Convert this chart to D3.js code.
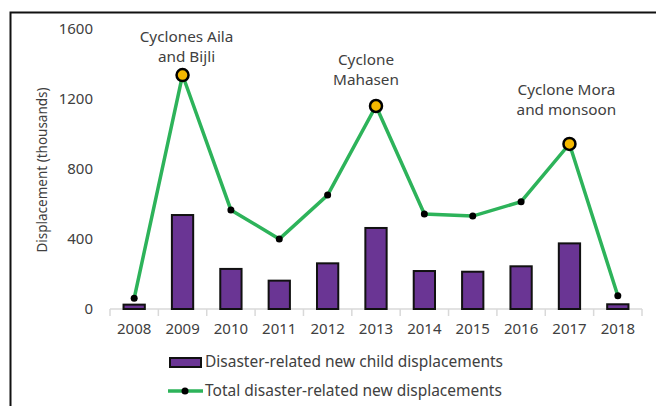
<!DOCTYPE html>
<html><head><meta charset="utf-8">
<script src="https://cdn.jsdelivr.net/npm/d3@7"></script>
<style>body{margin:0;background:#fff}svg{display:block}text{font-family:"Noto Sans",sans-serif;fill:#404040}</style>
</head><body>
<script>
const years = ["2008","2009","2010","2011","2012","2013","2014","2015","2016","2017","2018"];
const childDisp = [25, 537, 229, 162, 261, 463, 217, 213, 244, 375, 27];
const totalDisp = [61, 1337, 566, 400, 651, 1160, 543, 531, 613, 943, 76];
const yTicks = [0, 400, 800, 1200, 1600];
const highlightYears = ["2009","2013","2017"];
const highlightLabels = [["Cyclones Aila","and Bijli"],["Cyclone","Mahasen"],["Cyclone Mora","and monsoon"]];
const seriesNames = ["Disaster-related new child displacements","Total disaster-related new displacements"];

// layout
const W=656,H=406;
const labelGap=[38,46,54];
const labelDx=[4,-10,-3];
const svg=d3.select("body").append("svg").attr("width",W).attr("height",H);
svg.append("path").attr("d",`M10.5,${H} V12.5 H${W}`).attr("fill","none").attr("stroke","#111").attr("stroke-width",2);

const x=d3.scaleBand().domain(years).range([110,642]).paddingInner(0.56).paddingOuter(0.28);
const y=d3.scaleLinear().domain([0,1600]).range([309,29]);

svg.append("g").selectAll("text").data(yTicks).join("text")
  .attr("x",93).attr("y",d=>y(d)).attr("dy","0.35em").attr("text-anchor","end")
  .style("font-size","15px").text(d=>d);

svg.append("text").attr("transform","translate(47,170) rotate(-90)").attr("text-anchor","middle")
  .style("font-size","13.5px").text("Displacement (thousands)");

const xAxis=d3.axisBottom(x).tickSize(0).tickPadding(14);
const gx=svg.append("g").attr("transform","translate(0,309)").call(xAxis);
gx.select(".domain").attr("stroke","#d9d9d9").attr("stroke-width",1.5).attr("d","M110,0H642");
gx.selectAll("text").style("font-size","15px").style("font-family","'Noto Sans',sans-serif").attr("fill","#404040");
gx.selectAll(".bnd").data(d3.range(years.length+1)).join("line")
  .attr("x1",i=>110+i*(532/years.length)).attr("x2",i=>110+i*(532/years.length))
  .attr("y1",0).attr("y2",7).attr("stroke","#d9d9d9").attr("stroke-width",1.5);

svg.append("g").selectAll("rect").data(years).join("rect")
  .attr("x",d=>x(d)).attr("width",x.bandwidth())
  .attr("y",(d,i)=>y(childDisp[i])).attr("height",(d,i)=>y(0)-y(childDisp[i]))
  .attr("fill","#6a3594").attr("stroke","#111").attr("stroke-width",2);

const cx=d=>x(d)+x.bandwidth()/2;
svg.append("path").datum(years)
  .attr("d",d3.line().x(cx).y((d,i)=>y(totalDisp[i])))
  .attr("fill","none").attr("stroke","#2db35a").attr("stroke-width",3.5);

const hl=new Set(highlightYears);
svg.append("g").selectAll("circle").data(years).join("circle")
  .attr("cx",cx).attr("cy",(d,i)=>y(totalDisp[i]))
  .attr("r",d=>hl.has(d)?6:3.5)
  .attr("fill",d=>hl.has(d)?"#f5b800":"#000")
  .attr("stroke","#000").attr("stroke-width",d=>hl.has(d)?2.5:0);

highlightYears.forEach((yr,j)=>{
  const i=years.indexOf(yr);
  const py=y(totalDisp[i]);
  highlightLabels[j].forEach((t,k)=>{
    svg.append("text").attr("x",cx(yr)+labelDx[j]).attr("y",py-labelGap[j]+k*19.5).attr("dy","0.35em")
      .attr("text-anchor","middle").style("font-size","15.3px").text(t);
  });
});

const lg=svg.append("g");
lg.append("rect").attr("x",170).attr("y",358).attr("width",31).attr("height",9)
  .attr("fill","#6a3594").attr("stroke","#111").attr("stroke-width",2);
lg.append("text").attr("x",205).attr("y",362).attr("dy","0.35em").style("font-size","15.5px").text(seriesNames[0]);
lg.append("line").attr("x1",168).attr("x2",203).attr("y1",391).attr("y2",391).attr("stroke","#2db35a").attr("stroke-width",3.5);
lg.append("circle").attr("cx",185).attr("cy",391).attr("r",3.5).attr("fill","#000");
lg.append("text").attr("x",205).attr("y",391).attr("dy","0.35em").style("font-size","15.5px").text(seriesNames[1]);
</script>
</body></html>
